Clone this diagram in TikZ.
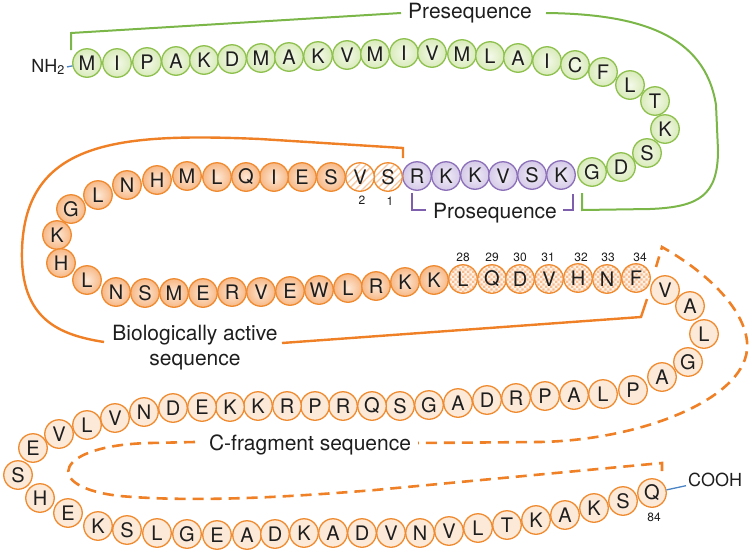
\documentclass[tikz,border=0pt]{standalone}
\usepackage{fontspec}
\setmainfont{TeX Gyre Heros}
\usetikzlibrary{patterns,patterns.meta}
\definecolor{gline}{HTML}{7AB648}
\definecolor{gborder}{HTML}{8DC04C}
\definecolor{gin}{HTML}{F4F9EA}
\definecolor{gout}{HTML}{D9EBBA}
\definecolor{pborder}{HTML}{8B6FB8}
\definecolor{pin}{HTML}{F0ECF7}
\definecolor{pout}{HTML}{D5CAE8}
\definecolor{plinec}{HTML}{7E5FAE}
\definecolor{oborder}{HTML}{EF8A2F}
\definecolor{olinec}{HTML}{F08026}
\definecolor{oin}{HTML}{FDE8D6}
\definecolor{oout}{HTML}{F7B886}
\definecolor{peach}{HTML}{FDE9D8}
\definecolor{hatchc}{HTML}{F8C8A2}
\definecolor{chkbg}{HTML}{FEF1E6}
\definecolor{chkc}{HTML}{F7BE92}
\definecolor{bluec}{HTML}{4A84C4}
\definecolor{txt}{HTML}{1E1E1E}
\tikzdeclarepattern{
  name=chk,
  type=uncolored,
  bounding box={(0pt,0pt) and (5.2pt,5.2pt)},
  tile size={(5.2pt,5.2pt)},
  code={\fill (0pt,0pt) rectangle (2.6pt,2.6pt); \fill (2.6pt,2.6pt) rectangle (5.2pt,5.2pt);}
}
\begin{document}
\begin{tikzpicture}[x=1pt,y=-1pt,
  res/.style={circle, minimum size=28.5pt, inner sep=0pt, line width=1.3pt, text=txt, font=\fontsize{20}{20}\selectfont},
  gres/.style={res, draw=gborder, inner color=gin, outer color=gout},
  prores/.style={res, draw=pborder, inner color=pin, outer color=pout},
  bres/.style={res, draw=oborder, inner color=oin, outer color=oout},
  hres/.style={res, draw=oborder, preaction={fill=white}, pattern={Lines[angle=45,distance=5pt,line width=1.3pt]}, pattern color=hatchc},
  kres/.style={res, draw=oborder, preaction={fill=chkbg}, pattern=chk, pattern color=chkc},
  cres/.style={res, draw=oborder, fill=peach},
  lbl/.style={inner sep=1pt, text=txt, font=\fontsize{21}{21}\selectfont},
  num/.style={inner sep=0.5pt, text=txt, font=\fontsize{12}{12}\selectfont},
  endl/.style={inner sep=2pt, text=txt, font=\fontsize{18}{18}\selectfont},
  gbr/.style={draw=gline, line width=2pt},
  pbr/.style={draw=plinec, line width=2pt},
  obr/.style={draw=olinec, line width=2.4pt},
  odash/.style={draw=olinec, line width=2.6pt, dash pattern=on 11pt off 7pt},
  blueln/.style={draw=bluec, line width=1.3pt}
]
\useasboundingbox (0,0) rectangle (750,552);

% brackets
\draw[gbr] (71,50) -- (71,33) -- (401,13);
\draw[gbr] (546,13) .. controls (640,14) and (705,35) .. (716,105) -- (718,150) .. controls (718,195) and (700,207) .. (650,209) -- (582,210) -- (582,193);
\draw[pbr] (412,193) -- (412,210) -- (426,210);
\draw[pbr] (563,210) -- (573,210) -- (573,194);
\draw[obr] (403,158) -- (403,148) -- (260,139) .. controls (120,133) and (25,140) .. (22,250) .. controls (20,320) and (60,335) .. (104,342);
\draw[obr] (282,343) -- (641,317) -- (647,299);
\draw[odash] (656,267) -- (662,247) .. controls (720,280) and (750,320) .. (747,350) .. controls (742,400) and (640,440) .. (540,442) -- (418,443);
\draw[odash] (195,442) -- (150,443) .. controls (55,445) and (40,487) .. (120,496) .. controls (200,503) and (300,496) .. (375,490) -- (662,463) -- (662,477);

% labels
\node[lbl, anchor=base] (pre) at (470,18.5) {Presequence};
\node[lbl, anchor=base] (pro) at (495,218) {Prosequence};
\node[lbl, anchor=base] (bio1) at (195,340) {Biologically active};
\node[lbl, anchor=base] (bio2) at (195,365) {sequence};
\node[lbl, anchor=base] (cfr) at (310,450) {C-fragment sequence};

% presequence (green)
\foreach \l/\x/\y [count=\i] in {M/87/63, I/117/63, P/147/62, A/176/61, K/204/60, D/232/59, M/261/58, A/289/57, K/318/56, V/347/55, M/375/54, I/404/53, V/432/53, M/462/54, L/490/56, A/518/58, I/547/61, C/575/65, F/603/72, L/630/85, T/655/101, K/665/129, S/647/153, D/621/167, G/592/172}
  \node[gres] (g\i) at (\x,\y) {\l};

% prosequence (purple)
\foreach \l/\x/\y [count=\i] in {R/417/176, K/446/176, K/475/175, V/503/176, S/532/175, K/561/175}
  \node[prores] (p\i) at (\x,\y) {\l};

% biologically active sequence
\node[hres] (b1) at (388,177) {S};
\node[hres] (b2) at (360,177) {V};
\foreach \l/\x/\y [count=\i from 3] in {S/331/177, E/302/177, I/274/177, Q/246/177, L/217/177, M/187/176, H/157/180, N/127/185, L/98/195, G/71/209, K/57/235, H/61/263, L/87/280, N/116/292, S/145/293, M/174/293, E/203/293, R/232/292, V/261/292, E/290/291, W/319/290, L/348/288, R/376/286, K/405/282, K/434/280}
  \node[bres] (b\i) at (\x,\y) {\l};
\foreach \l/\x/\y [count=\i from 28] in {L/463/279, Q/492/279, D/520/279, V/549/279, H/578/278, N/607/279, F/636/278}
  \node[kres] (b\i) at (\x,\y) {\l};

% C-fragment
\foreach \l/\x/\y [count=\i from 35] in {V/665/290, A/690/306, L/704/334, G/688/362, A/662/377, P/633/390, L/603/394, A/574/395, P/545/396, R/516/398, D/487/400, A/458/403, G/429/405, S/400/406, Q/372/406, R/343/406, P/315/406, R/287/406, K/258/406, K/230/407, E/202/407, D/173/408, N/144/412, V/115/418, L/87/425, V/59/434, E/33/448, S/18/475, H/40/498, E/68/513, K/98/526, S/127/530, L/157/533, G/187/534, E/217/535, A/247/535, D/275/534, K/304/533, A/333/533, D/362/533, V/391/533, N/420/533, V/449/531, L/478/528, T/507/525, K/536/520, A/565/515, K/594/508, S/623/501, Q/652/493}
  \node[cres] (c\i) at (\x,\y) {\l};

% residue numbers
\node[num] (n2) at (362,200) {2};
\node[num] (n1) at (390,201) {1};
\foreach \n/\x in {28/463, 29/492, 30/520, 31/548, 32/581, 33/608, 34/640}
  \node[num] (n\n) at (\x,257) {\n};
\node[num] (n84) at (654,517) {84};

% termini
\node[endl, anchor=base east] (nh2) at (67,72) {NH\textsubscript{2}};
\node[endl, anchor=base west] (cooh) at (686,486) {COOH};
\draw[blueln] (nh2.east) -- (g1);
\draw[blueln] (c84) -- (cooh);
\end{tikzpicture}
\end{document}
